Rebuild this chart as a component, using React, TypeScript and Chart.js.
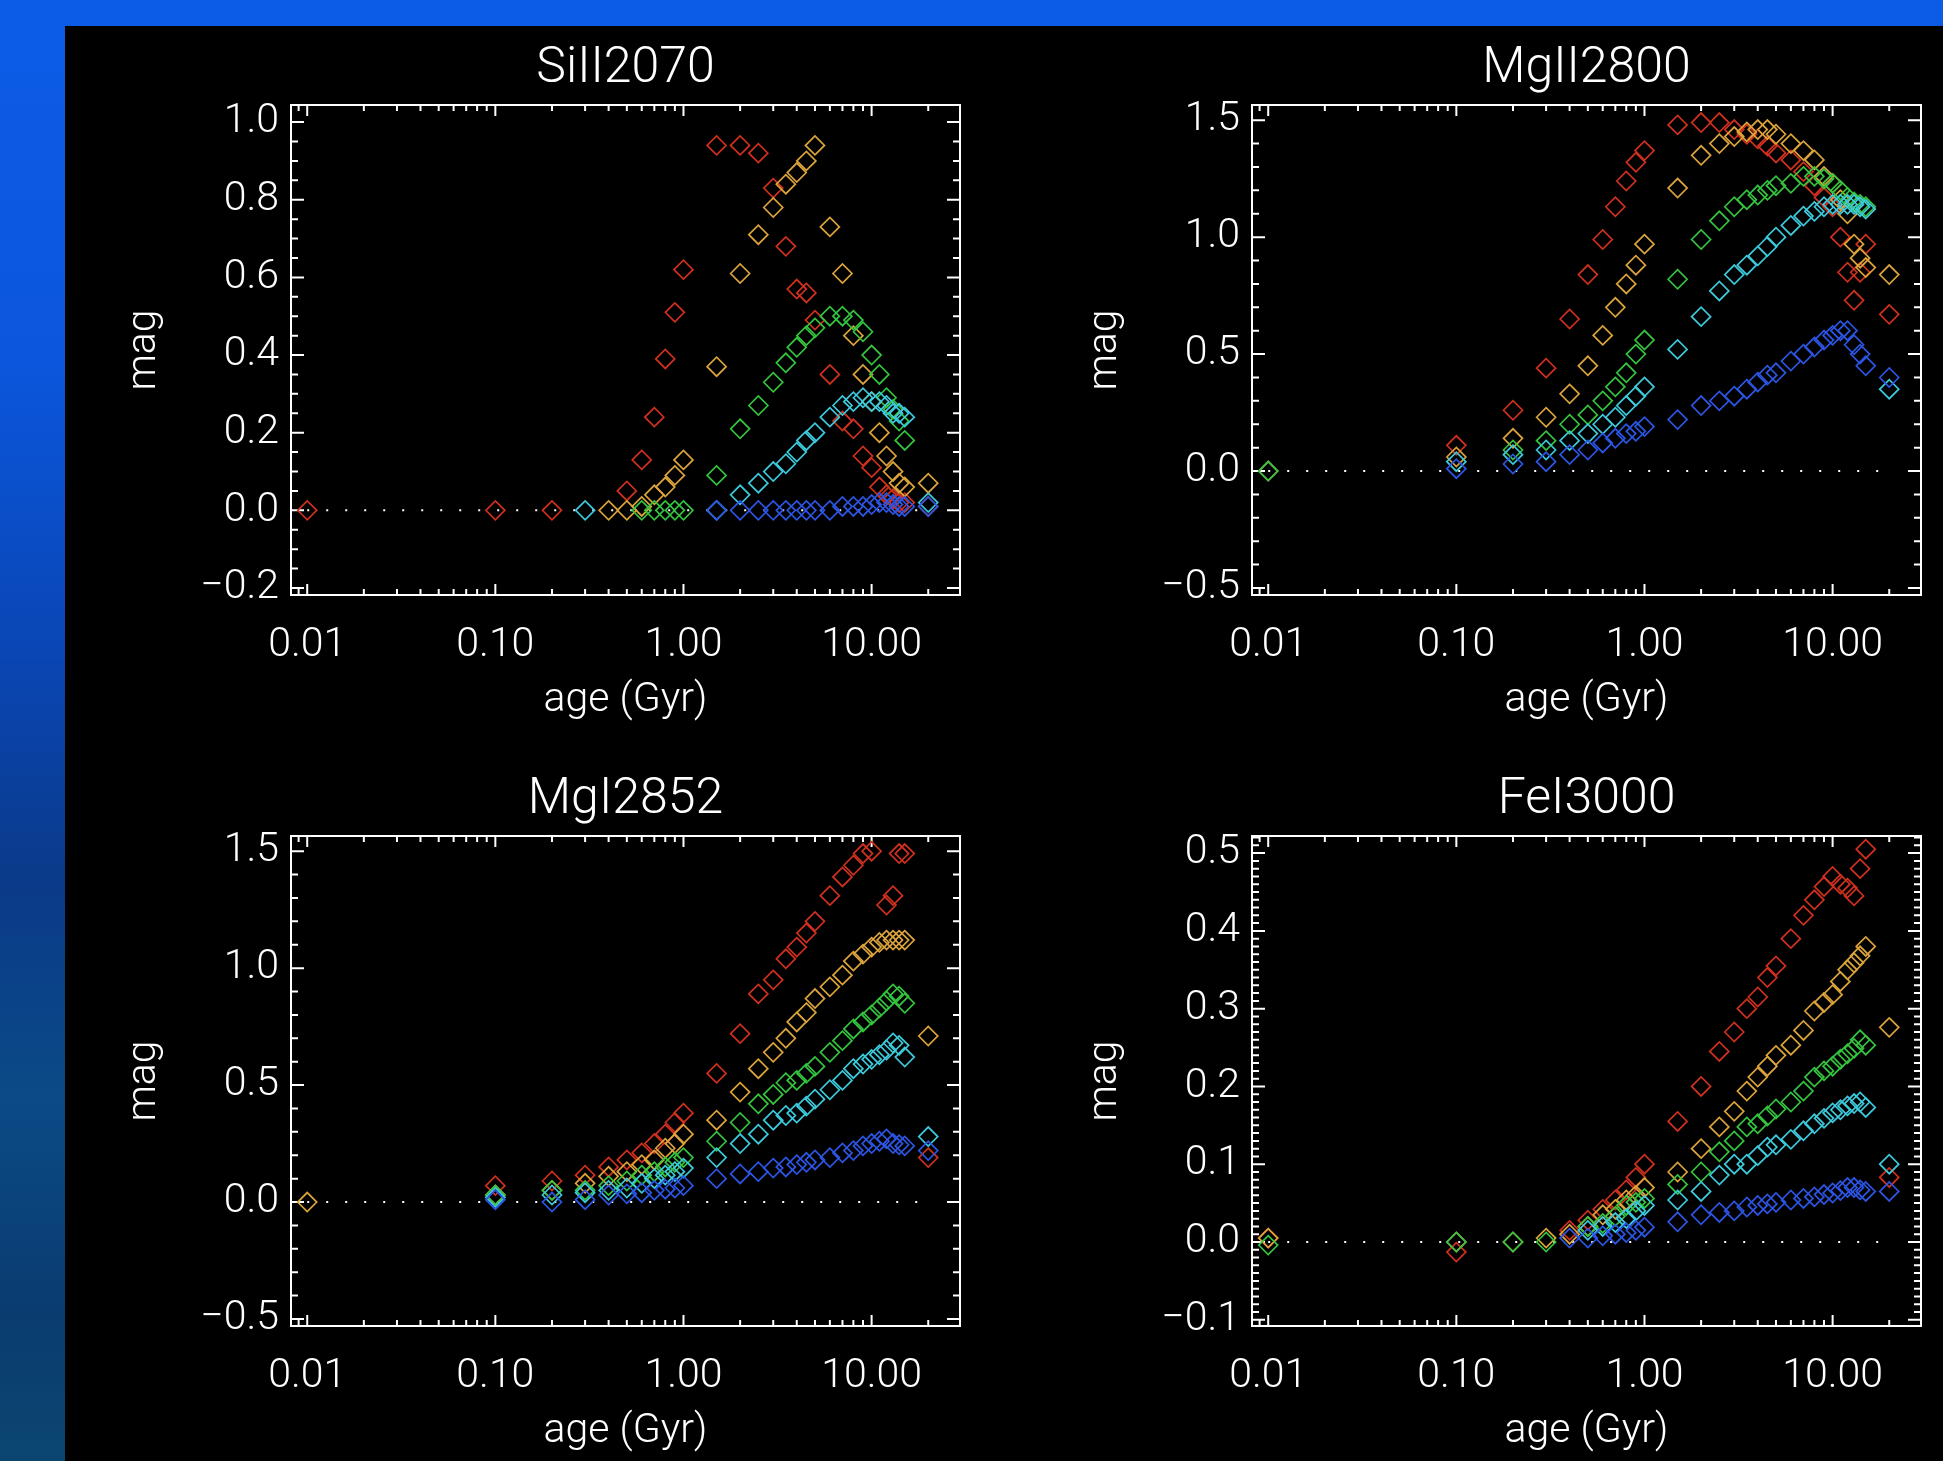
import React, { useEffect, useRef } from "react";
import { Chart, registerables } from "chart.js";

Chart.register(...registerables);

// ---------- data ----------
const AGES = [0.01, 0.1, 0.2, 0.3, 0.4, 0.5, 0.6, 0.7, 0.8, 0.9, 1.0, 1.5, 2, 2.5, 3, 3.5, 4, 4.5, 5, 6, 7, 8, 9, 10, 11, 12, 13, 14, 15, 20];
const X_TICKS = [0.01, 0.1, 1, 10];
const ZERO_LINE_X = [0.01, 20];

// SiII2070
const SI_RED = [0, 0, 0, null, null, 0.05, 0.13, 0.24, 0.39, 0.51, 0.62, 0.94, 0.94, 0.92, 0.83, 0.68, 0.57, 0.56, 0.49, 0.35, 0.23, 0.21, 0.14, 0.11, 0.06, 0.04, 0.03, 0.02, 0.02, 0.01];
const SI_ORANGE = [null, null, null, null, 0, 0, 0.01, 0.04, 0.06, 0.09, 0.13, 0.37, 0.61, 0.71, 0.78, 0.84, 0.87, 0.9, 0.94, 0.73, 0.61, 0.45, 0.35, 0.28, 0.2, 0.14, 0.1, 0.07, 0.06, 0.07];
const SI_GREEN = [null, null, null, null, null, null, 0, 0, 0, 0, 0, 0.09, 0.21, 0.27, 0.33, 0.38, 0.42, 0.45, 0.47, 0.5, 0.5, 0.49, 0.46, 0.4, 0.35, 0.29, 0.26, 0.23, 0.18, null];
const SI_CYAN = [null, null, null, 0, null, null, null, null, null, null, null, 0, 0.04, 0.07, 0.1, 0.12, 0.15, 0.18, 0.2, 0.24, 0.27, 0.28, 0.29, 0.28, 0.28, 0.27, 0.25, 0.25, 0.24, 0.02];
const SI_BLUE = [null, null, null, null, null, null, null, null, null, null, null, 0, 0, 0, 0, 0, 0, 0, 0, 0, 0.01, 0.01, 0.01, 0.015, 0.02, 0.02, 0.015, 0.01, 0.01, 0.01];

// MgII2800
const MG2_RED = [null, 0.11, 0.26, 0.44, 0.65, 0.84, 0.99, 1.13, 1.24, 1.32, 1.37, 1.48, 1.49, 1.49, 1.46, 1.44, 1.42, 1.39, 1.36, 1.33, 1.28, 1.22, 1.17, 1.13, 1.0, 0.85, 0.73, 0.85, 0.97, 0.67];
const MG2_ORANGE = [0, 0.06, 0.14, 0.23, 0.33, 0.45, 0.58, 0.7, 0.8, 0.88, 0.97, 1.21, 1.35, 1.4, 1.43, 1.45, 1.46, 1.46, 1.44, 1.4, 1.37, 1.33, 1.26, 1.23, 1.16, 1.1, 0.97, 0.91, 0.87, 0.84];
const MG2_GREEN = [0, null, 0.09, 0.13, 0.2, 0.24, 0.3, 0.36, 0.42, 0.5, 0.56, 0.82, 0.99, 1.07, 1.13, 1.16, 1.18, 1.2, 1.22, 1.23, 1.26, 1.26, 1.25, 1.23, 1.2, 1.17, 1.15, 1.14, 1.13, null];
const MG2_CYAN = [null, 0.04, 0.07, 0.09, 0.13, 0.16, 0.2, 0.23, 0.28, 0.32, 0.36, 0.52, 0.66, 0.77, 0.84, 0.88, 0.92, 0.96, 1.0, 1.05, 1.09, 1.11, 1.13, 1.14, 1.14, 1.14, 1.14, 1.13, 1.12, 0.35];
const MG2_BLUE = [null, 0.01, 0.03, 0.04, 0.07, 0.09, 0.12, 0.14, 0.16, 0.17, 0.19, 0.22, 0.28, 0.3, 0.32, 0.35, 0.38, 0.41, 0.42, 0.47, 0.5, 0.53, 0.56, 0.58, 0.6, 0.6, 0.54, 0.5, 0.45, 0.4];

// MgI2852
const MG1_RED = [null, 0.07, 0.09, 0.115, 0.15, 0.18, 0.21, 0.25, 0.29, 0.34, 0.38, 0.55, 0.72, 0.89, 0.95, 1.04, 1.09, 1.15, 1.2, 1.31, 1.39, 1.44, 1.49, 1.5, null, 1.27, 1.31, 1.49, 1.49, 0.19];
const MG1_ORANGE = [0, 0.03, 0.05, 0.08, 0.11, 0.13, 0.16, 0.18, 0.23, 0.25, 0.29, 0.35, 0.47, 0.57, 0.64, 0.7, 0.77, 0.81, 0.87, 0.92, 0.97, 1.03, 1.06, 1.09, 1.11, 1.12, 1.12, 1.12, 1.12, 0.71];
const MG1_GREEN = [null, 0.03, 0.05, 0.05, 0.07, 0.09, 0.115, 0.13, 0.15, 0.17, 0.19, 0.26, 0.34, 0.42, 0.46, 0.51, 0.52, 0.55, 0.58, 0.64, 0.69, 0.74, 0.77, 0.8, 0.83, 0.86, 0.89, 0.88, 0.85, null];
const MG1_CYAN = [null, 0.02, 0.03, 0.04, 0.05, 0.06, 0.08, 0.1, 0.115, 0.13, 0.145, 0.19, 0.25, 0.29, 0.35, 0.37, 0.38, 0.41, 0.44, 0.48, 0.52, 0.57, 0.59, 0.61, 0.63, 0.65, 0.68, 0.67, 0.62, 0.28];
const MG1_BLUE = [null, 0.01, 0, 0.01, 0.03, 0.035, 0.04, 0.05, 0.055, 0.06, 0.07, 0.1, 0.12, 0.13, 0.145, 0.15, 0.16, 0.17, 0.18, 0.19, 0.21, 0.22, 0.24, 0.25, 0.26, 0.27, 0.25, 0.245, 0.24, 0.22];

// FeI3000
const FE_RED = [0.005, -0.013, null, null, 0.015, 0.028, 0.042, 0.054, 0.067, 0.083, 0.1, 0.155, 0.2, 0.245, 0.27, 0.3, 0.315, 0.34, 0.355, 0.39, 0.42, 0.44, 0.457, 0.47, 0.46, 0.455, 0.445, 0.48, 0.505, 0.083];
const FE_ORANGE = [0.005, 0, 0, 0.005, 0.01, 0.02, 0.035, 0.042, 0.054, 0.06, 0.07, 0.09, 0.12, 0.148, 0.168, 0.194, 0.212, 0.226, 0.24, 0.253, 0.272, 0.297, 0.308, 0.318, 0.335, 0.35, 0.359, 0.368, 0.38, 0.276];
const FE_GREEN = [-0.004, 0, 0, 0, null, 0.02, 0.024, 0.033, 0.047, 0.051, 0.056, 0.074, 0.09, 0.116, 0.13, 0.148, 0.152, 0.162, 0.171, 0.18, 0.194, 0.212, 0.22, 0.226, 0.235, 0.242, 0.249, 0.26, 0.253, null];
const FE_CYAN = [null, null, null, null, null, 0.015, 0.02, 0.025, 0.03, 0.04, 0.047, 0.054, 0.065, 0.086, 0.1, 0.1, 0.111, 0.122, 0.125, 0.132, 0.143, 0.152, 0.159, 0.166, 0.17, 0.175, 0.178, 0.18, 0.173, 0.1];
const FE_BLUE = [null, null, null, null, 0.005, 0.005, 0.008, 0.01, 0.012, 0.015, 0.019, 0.026, 0.035, 0.038, 0.04, 0.045, 0.047, 0.049, 0.051, 0.054, 0.056, 0.058, 0.061, 0.063, 0.066, 0.07, 0.07, 0.067, 0.065, 0.065];

// y-axis tick values
const Y_TICKS_SI = [-0.2, 0, 0.2, 0.4, 0.6, 0.8, 1.0];
const Y_TICKS_MG = [-0.5, 0, 0.5, 1.0, 1.5];
const Y_TICKS_FE = [-0.1, 0, 0.1, 0.2, 0.3, 0.4, 0.5];

// ---------- styles ----------
const COLORS = {
  red: "#d0301e",
  orange: "#dca43a",
  green: "#34c43e",
  cyan: "#3ccadc",
  blue: "#2c55e4",
};
const FONT = '"Roboto", "Liberation Sans", "DejaVu Sans", sans-serif';
const X_MIN = 0.0082;
const X_MAX = 29.5;
const CANVAS_W = 915;
const CANVAS_H = 715;

type Vals = (number | null)[];
interface PanelSpec {
  title: string;
  yMin: number;
  yMax: number;
  yTicks: number[];
  yMajor: number;
  yMinor: number;
  series: { name: string; color: string; values: Vals }[];
}

function mkSeries(red: Vals, orange: Vals, green: Vals, cyan: Vals, blue: Vals) {
  // index order = drawing priority (first on top)
  return [
    { name: "blue", color: COLORS.blue, values: blue },
    { name: "cyan", color: COLORS.cyan, values: cyan },
    { name: "green", color: COLORS.green, values: green },
    { name: "orange", color: COLORS.orange, values: orange },
    { name: "red", color: COLORS.red, values: red },
  ];
}

const PANELS: PanelSpec[] = [
  { title: "SiII2070", yMin: -0.218, yMax: 1.044, yTicks: Y_TICKS_SI, yMajor: 0.2, yMinor: 0.05, series: mkSeries(SI_RED, SI_ORANGE, SI_GREEN, SI_CYAN, SI_BLUE) },
  { title: "MgII2800", yMin: -0.53, yMax: 1.565, yTicks: Y_TICKS_MG, yMajor: 0.5, yMinor: 0.1, series: mkSeries(MG2_RED, MG2_ORANGE, MG2_GREEN, MG2_CYAN, MG2_BLUE) },
  { title: "MgI2852", yMin: -0.53, yMax: 1.565, yTicks: Y_TICKS_MG, yMajor: 0.5, yMinor: 0.1, series: mkSeries(MG1_RED, MG1_ORANGE, MG1_GREEN, MG1_CYAN, MG1_BLUE) },
  { title: "FeI3000", yMin: -0.108, yMax: 0.522, yTicks: Y_TICKS_FE, yMajor: 0.1, yMinor: 0.01, series: mkSeries(FE_RED, FE_ORANGE, FE_GREEN, FE_CYAN, FE_BLUE) },
];

const POSITIONS = [
  { left: 65, top: 26 },
  { left: 1026, top: 26 },
  { left: 65, top: 757 },
  { left: 1026, top: 757 },
];

// IDL-like frame with inward ticks on all four sides
const idlFrame = {
  id: "idlFrame",
  beforeDatasetsDraw(chart: any, _args: any, opts: any) {
    const { ctx, chartArea: a, scales } = chart;
    const xs = scales.x;
    const ys = scales.y;
    ctx.save();
    ctx.strokeStyle = "#ffffff";
    ctx.lineWidth = 2;
    ctx.strokeRect(a.left, a.top, a.right - a.left, a.bottom - a.top);
    ctx.beginPath();
    for (let e = -3; e <= 1; e++) {
      for (let m = 1; m <= 9; m++) {
        const v = m * Math.pow(10, e);
        if (v < xs.min || v > xs.max) continue;
        const px = xs.getPixelForValue(v);
        const len = m === 1 ? 11 : 6;
        ctx.moveTo(px, a.bottom);
        ctx.lineTo(px, a.bottom - len);
        ctx.moveTo(px, a.top);
        ctx.lineTo(px, a.top + len);
      }
    }
    const step = opts.minor;
    const major = opts.major;
    const n0 = Math.ceil(ys.min / step - 1e-9);
    const n1 = Math.floor(ys.max / step + 1e-9);
    for (let n = n0; n <= n1; n++) {
      const v = n * step;
      const r = v / major;
      const isMajor = Math.abs(r - Math.round(r)) < 1e-6;
      const py = ys.getPixelForValue(v);
      const len = isMajor ? 13 : 7;
      ctx.moveTo(a.left, py);
      ctx.lineTo(a.left + len, py);
      ctx.moveTo(a.right, py);
      ctx.lineTo(a.right - len, py);
    }
    ctx.stroke();
    ctx.restore();
  },
};

function fmtY(v: number) {
  const s = Math.abs(v).toFixed(1);
  return v < -1e-9 ? "\u2212" + s : s;
}

function buildConfig(p: PanelSpec): any {
  const tickFont = { family: FONT, size: 41, weight: "300", lineHeight: 1.2 };
  const datasets: any[] = p.series.map((s, i) => ({
    label: s.name,
    data: AGES.map((a, k) => ({ x: a, y: s.values[k] })).filter((d) => d.y !== null && d.y !== undefined),
    pointStyle: "rectRot",
    pointRadius: 9.5,
    pointBorderWidth: 1.7,
    pointBorderColor: s.color,
    pointBackgroundColor: "rgba(0,0,0,0)",
    borderColor: s.color,
    backgroundColor: "rgba(0,0,0,0)",
    showLine: false,
    order: i,
  }));
  datasets.push({
    label: "zero",
    data: ZERO_LINE_X.map((x) => ({ x, y: 0 })),
    borderColor: "#ffffff",
    borderWidth: 2,
    borderDash: [2, 17],
    pointRadius: 0,
    showLine: true,
    fill: false,
    order: 99,
  });

  return {
    type: "scatter",
    data: { datasets },
    plugins: [idlFrame],
    options: {
      animation: false,
      responsive: false,
      devicePixelRatio: 1,
      events: [],
      layout: { padding: { left: 0, top: 0, right: 20, bottom: 0 } },
      plugins: {
        legend: { display: false },
        tooltip: { enabled: false },
        title: {
          display: true,
          text: p.title,
          color: "#ffffff",
          fullSize: false,
          font: { family: FONT, size: 50, weight: "300", lineHeight: 1.2 },
          padding: { top: 13, bottom: 6 },
        },
        idlFrame: { major: p.yMajor, minor: p.yMinor },
      },
      scales: {
        x: {
          type: "logarithmic",
          min: X_MIN,
          max: X_MAX,
          afterBuildTicks: (s: any) => {
            s.ticks = X_TICKS.map((value) => ({ value }));
          },
          afterFit: (s: any) => {
            s.height = 146;
          },
          grid: { display: false, drawTicks: false },
          border: { display: false },
          ticks: {
            color: "#ffffff",
            font: tickFont,
            padding: 26,
            maxRotation: 0,
            autoSkip: false,
            callback: (v: any) => Number(v).toFixed(2),
          },
          title: {
            display: true,
            text: "age (Gyr)",
            color: "#ffffff",
            font: tickFont,
            padding: { top: 0, bottom: 16 },
          },
        },
        y: {
          type: "linear",
          min: p.yMin,
          max: p.yMax,
          afterBuildTicks: (s: any) => {
            s.ticks = p.yTicks.map((value) => ({ value }));
          },
          afterFit: (s: any) => {
            s.width = 226;
          },
          grid: { display: false, drawTicks: false },
          border: { display: false },
          ticks: {
            color: "#ffffff",
            font: tickFont,
            padding: 12,
            autoSkip: false,
            callback: (v: any) => fmtY(Number(v)),
          },
          title: {
            display: true,
            text: "mag",
            color: "#ffffff",
            font: tickFont,
            padding: { top: 55, bottom: 0 },
          },
        },
      },
    },
  };
}

function Panel({ spec, left, top }: { spec: PanelSpec; left: number; top: number }) {
  const ref = useRef<HTMLCanvasElement | null>(null);
  useEffect(() => {
    if (!ref.current) return;
    const chart = new Chart(ref.current, buildConfig(spec));
    return () => chart.destroy();
  }, [spec]);
  return (
    <canvas
      ref={ref}
      width={CANVAS_W}
      height={CANVAS_H}
      style={{ position: "absolute", left, top, width: CANVAS_W, height: CANVAS_H }}
    />
  );
}

export default function App() {
  return (
    <div
      style={{
        position: "fixed",
        left: 0,
        top: 0,
        width: 1943,
        height: 1461,
        overflow: "hidden",
        background:
          "linear-gradient(180deg, #0d5ce8 0%, #0b56dc 25%, #0a46b4 45%, #0a3a8a 60%, #0b4a86 75%, #0a3c70 90%, #0b4670 100%)",
      }}
    >
      <div style={{ position: "absolute", left: 65, top: 26, right: 0, bottom: 0, background: "#000" }} />
      {PANELS.map((p, i) => (
        <Panel key={p.title} spec={p} left={POSITIONS[i].left} top={POSITIONS[i].top} />
      ))}
    </div>
  );
}
